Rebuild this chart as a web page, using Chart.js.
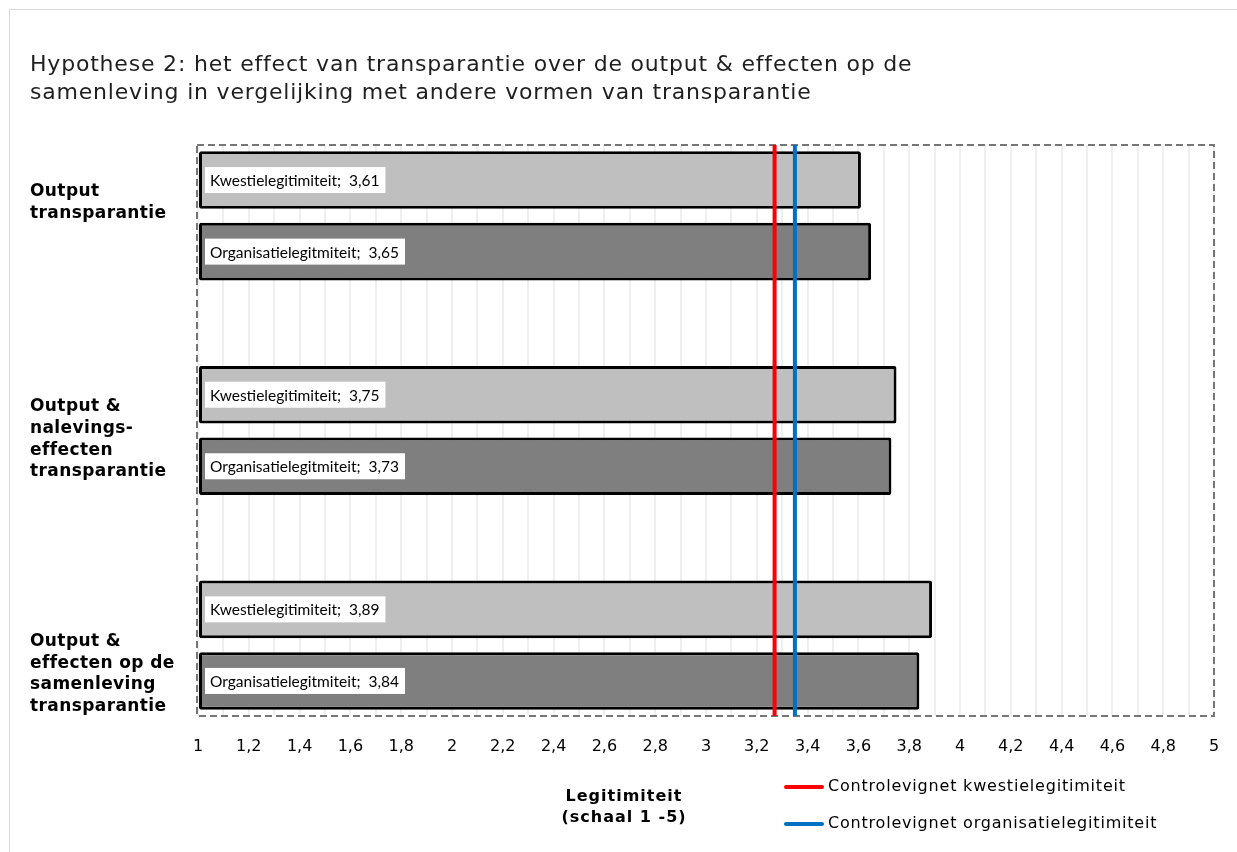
<!DOCTYPE html>
<html><head><meta charset="utf-8">
<script src="https://cdn.jsdelivr.net/npm/chart.js@4/dist/chart.umd.min.js"></script>
<style>html,body{margin:0;padding:0;background:#fff}#wrap{width:1237px;height:852px;position:relative}</style>
</head><body><div id="wrap"><canvas id="c"></canvas></div>
<script>
// ---- data ----
const titleLines = ["Hypothese 2: het effect van transparantie over de output & effecten op de", "samenleving in vergelijking met andere vormen van transparantie"];
const categories = [["Output", "transparantie"], ["Output &", "nalevings-", "effecten", "transparantie"], ["Output &", "effecten op de", "samenleving", "transparantie"]];
const categoryPositions = [0, 1, 2];
const kwestieLabel = "Kwestielegitimiteit";
const kwestieValues = [3.61, 3.75, 3.89];
const organisatieLabel = "Organisatielegitmiteit";
const organisatieValues = [3.65, 3.73, 3.84];
const controlKwestieLabel = "Controlevignet kwestielegitimiteit";
const controlKwestieValue = 3.27;
const controlOrgLabel = "Controlevignet organisatielegitimiteit";
const controlOrgValue = 3.35;
const xMin = 1, xMax = 5, xStep = 0.1;
const xAxisTitle = ["Legitimiteit", "(schaal 1 -5)"];
const yMin = -0.33, yMax = 2.33;

// ---- styles ----
const FONT = "'DejaVu Sans', Verdana, sans-serif";
const LABELFONT = "Lato, 'Open Sans', sans-serif";
const catLabelOffsets = [-13, 9, 29];

const fmt = v => String(v).replace('.', ',');
function spacing(ctx, px) { try { ctx.letterSpacing = px + 'px'; } catch (e) {} }

const deco = {
  id: 'deco',
  beforeDraw(chart) {
    const ctx = chart.ctx;
    ctx.save();
    ctx.fillStyle = '#fff';
    ctx.fillRect(0, 0, chart.width, chart.height);
    ctx.strokeStyle = '#d9d9d9';
    ctx.lineWidth = 1;
    ctx.strokeRect(9.5, 9.5, chart.width + 20, chart.height + 20);
    ctx.restore();
  },
  beforeDatasetsDraw(chart) {
    const {ctx, chartArea: a} = chart;
    ctx.save();
    ctx.strokeStyle = '#767676';
    ctx.lineWidth = 2;
    ctx.setLineDash([7, 4]);
    ctx.strokeRect(a.left - 1, a.top, a.right - a.left + 1, a.bottom - a.top);
    ctx.restore();
  },
  afterDatasetsDraw(chart) {
    const ctx = chart.ctx;
    ctx.save();
    ctx.font = "15.5px " + LABELFONT;
    ctx.textBaseline = 'middle';
    [0, 1].forEach(di => {
      const ds = chart.data.datasets[di];
      const meta = chart.getDatasetMeta(di);
      meta.data.forEach((el, i) => {
        const txt = ds.label + ";  " + fmt(ds.data[i].x);
        const w = ctx.measureText(txt).width + 11;
        const x0 = el.base + 6;
        ctx.fillStyle = '#fff';
        ctx.fillRect(x0, el.y - 13, w, 26);
        ctx.fillStyle = '#000';
        ctx.fillText(txt, x0 + 5, el.y + 1);
      });
    });
    ctx.restore();
  },
  afterDraw(chart) {
    const ctx = chart.ctx;
    const ys = chart.scales.y;
    ctx.save();
    // title
    ctx.fillStyle = '#1f1f1f';
    ctx.font = "22px " + FONT;
    spacing(ctx, 0.8);
    ctx.textBaseline = 'middle';
    ctx.textAlign = 'left';
    titleLines.forEach((t, i) => ctx.fillText(t, 30, 65 + i * 28));
    // category labels
    ctx.fillStyle = '#000';
    ctx.font = "bold 17px " + FONT;
    spacing(ctx, 0.4);
    categories.forEach((lines, i) => {
      const cy = ys.getPixelForValue(categoryPositions[i]) + catLabelOffsets[i];
      const lh = 21.7;
      const top = cy - (lines.length - 1) * lh / 2;
      lines.forEach((l, j) => ctx.fillText(l, 30, top + j * lh));
    });
    // axis title
    ctx.font = "bold 16px " + FONT;
    spacing(ctx, 1);
    ctx.textAlign = 'center';
    xAxisTitle.forEach((t, i) => ctx.fillText(t, 624, 797 + i * 21));
    // legend
    ctx.textAlign = 'left';
    ctx.font = "16px " + FONT;
    spacing(ctx, 0.8);
    const legendItems = chart.data.datasets.filter(d => d.type === 'line');
    legendItems.forEach((d, i) => {
      const y = 787 + i * 37;
      ctx.strokeStyle = d.borderColor;
      ctx.lineWidth = 4;
      ctx.lineCap = 'round';
      ctx.beginPath(); ctx.moveTo(786, y); ctx.lineTo(822, y); ctx.stroke();
      ctx.fillStyle = '#000';
      ctx.fillText(d.label, 828, y);
    });
    ctx.restore();
  }
};

new Chart(document.getElementById('c'), {
  type: 'bar',
  data: {
    datasets: [
      {
        label: kwestieLabel,
        data: categoryPositions.map((p, i) => ({x: kwestieValues[i], y: p})),
        base: xMin,
        backgroundColor: '#bfbfbf', borderColor: '#000', borderWidth: 3, borderSkipped: false, borderRadius: 2,
        order: 1
      },
      {
        label: organisatieLabel,
        data: categoryPositions.map((p, i) => ({x: organisatieValues[i], y: p})),
        base: xMin,
        backgroundColor: '#7f7f7f', borderColor: '#000', borderWidth: 3, borderSkipped: false, borderRadius: 2,
        order: 1
      },
      {
        type: 'line', label: controlKwestieLabel,
        data: [{x: controlKwestieValue, y: yMin}, {x: controlKwestieValue, y: yMax}],
        borderColor: '#ff0000', borderWidth: 4, pointRadius: 0, fill: false, order: 0
      },
      {
        type: 'line', label: controlOrgLabel,
        data: [{x: controlOrgValue, y: yMin}, {x: controlOrgValue, y: yMax}],
        borderColor: '#0070c0', borderWidth: 4, pointRadius: 0, fill: false, order: 0
      }
    ]
  },
  options: {
    indexAxis: 'y',
    responsive: true,
    maintainAspectRatio: false,
    animation: false,
    events: [],
    layout: {padding: {top: 145, right: 23, bottom: 0, left: 0}},
    categoryPercentage: 0.6667,
    barPercentage: 0.804,
    plugins: {legend: {display: false}, tooltip: {enabled: false}, title: {display: false}},
    scales: {
      x: {
        type: 'linear', position: 'bottom', min: xMin, max: xMax, offset: false,
        grid: {color: '#efefef', lineWidth: 2, drawTicks: false, offset: false},
        border: {display: false},
        ticks: {
          stepSize: xStep, autoSkip: false, maxRotation: 0, padding: 21,
          color: '#000', font: {family: FONT, size: 16},
          callback: v => (Math.round(v * 10) % 2 === 0 ? fmt(Math.round(v * 10) / 10) : '')
        },
        afterFit: s => { s.height = 136; s.paddingLeft = 0; s.paddingRight = 0; }
      },
      y: {
        type: 'linear', reverse: true, min: yMin, max: yMax, offset: false,
        grid: {display: false, offset: false},
        border: {display: false},
        ticks: {display: false},
        afterBuildTicks: s => { s.ticks = categoryPositions.map(v => ({value: v})); },
        afterFit: s => { s.width = 198; }
      }
    }
  },
  plugins: [deco]
});
</script>
</body></html>
